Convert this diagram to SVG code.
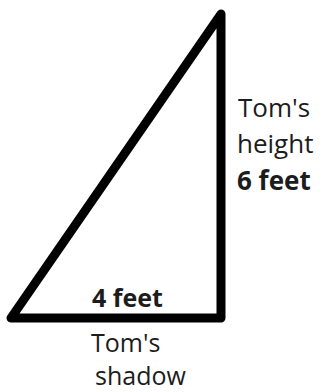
<svg xmlns="http://www.w3.org/2000/svg" width="323" height="392" viewBox="0 0 323 392">
<style>
.edge{fill:none;stroke:#000;stroke-width:9;stroke-linejoin:round;stroke-linecap:round}
.lbl{font-family:"Open Sans","Noto Sans",sans-serif;fill:#1c1c1c}
.r{font-size:26px}
.b{font-size:25px}
.bold{font-weight:bold}
</style>
<rect width="323" height="392" fill="#fff"/>
<g id="connectors">
<polygon id="triangle" class="edge" points="11,318 221,318 221,14"/>
</g>
<g id="height-label" class="lbl r">
<text x="238" y="117">Tom's</text>
<text x="237" y="153">height</text>
<text x="237" y="190" class="bold">6 feet</text>
</g>
<g id="base-label" class="lbl b">
<text x="92" y="307" class="bold">4 feet</text>
<text x="91" y="352">Tom's</text>
<text x="95" y="385">shadow</text>
</g>
</svg>
